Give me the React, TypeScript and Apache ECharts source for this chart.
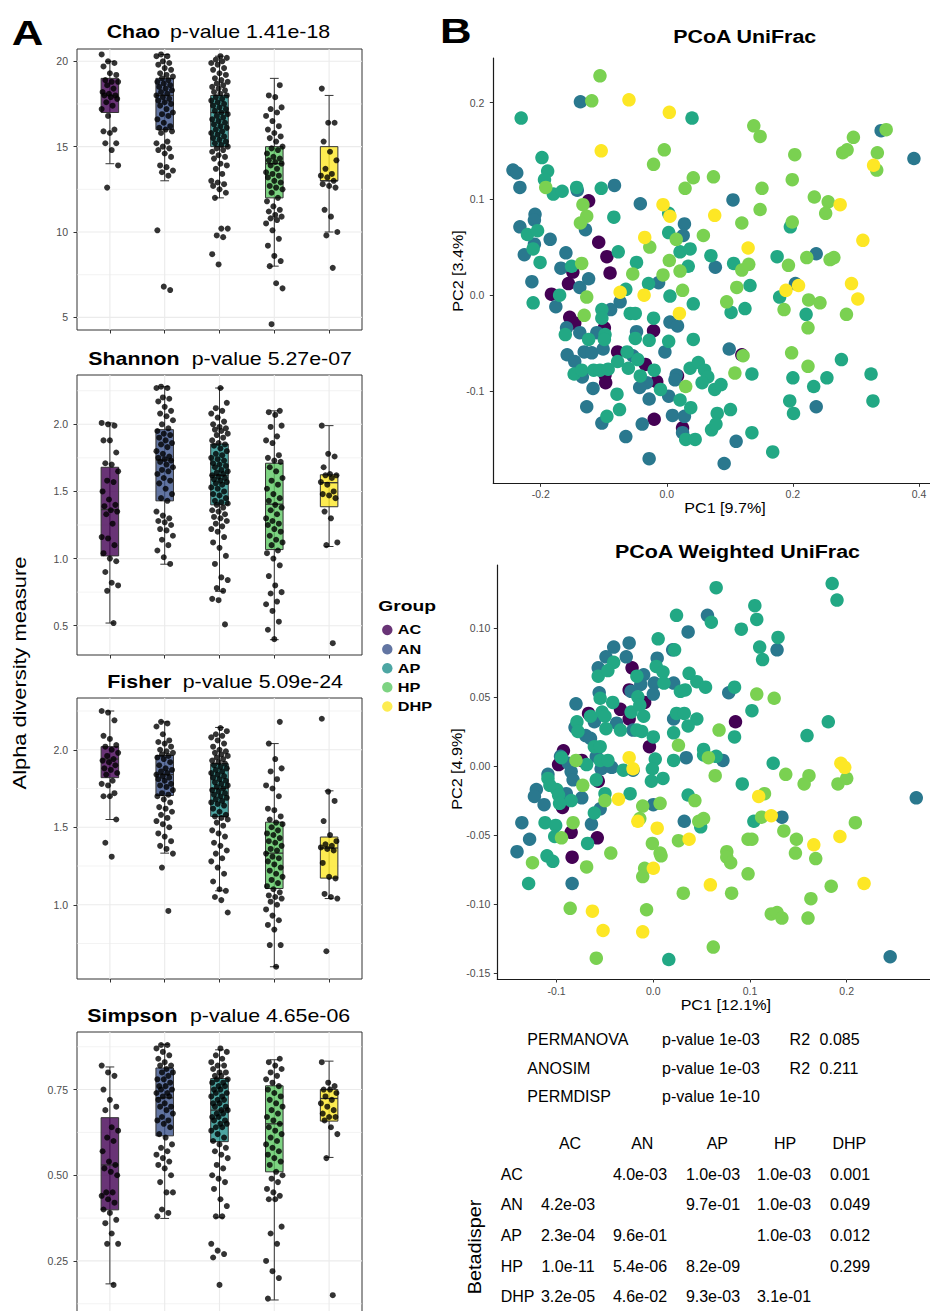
import React, { useEffect, useRef } from 'react';
import * as echarts from 'echarts';

const FONT = '"Liberation Sans", Arial, Helvetica, sans-serif';
const GROUPS = ['AC', 'AN', 'AP', 'HP', 'DHP'];
const BOX_COLORS = ['rgba(68,1,84,0.8)', 'rgba(59,82,139,0.8)', 'rgba(33,144,140,0.8)', 'rgba(93,200,99,0.8)', 'rgba(253,231,37,0.8)'];
const PCOA_COLORS = ['#440154', '#2A788E', '#22A884', '#7AD151', '#FDE725'];

// ---------- Alpha diversity values (per group) ----------
const CHAO_AC = [20.4, 20.0, 19.9, 19.7, 19.3, 19.2, 18.9, 18.8, 18.8, 18.6, 18.4, 18.2, 18.1, 18.0, 18.0, 17.9, 17.8, 17.6, 17.4, 17.2, 16.8, 16.0, 15.9, 15.8, 15.2, 15.2, 14.8, 13.9, 12.6];
const CHAO_AN = [20.4, 20.3, 20.3, 20.0, 19.9, 19.8, 19.6, 19.5, 19.3, 19.2, 19.1, 19.0, 18.9, 18.8, 18.7, 18.6, 18.5, 18.4, 18.3, 18.2, 18.1, 18.0, 17.9, 17.8, 17.7, 17.6, 17.5, 17.4, 17.2, 17.0, 16.9, 16.8, 16.6, 16.4, 16.2, 16.1, 16.0, 15.9, 15.8, 15.3, 15.2, 15.0, 14.9, 14.8, 14.6, 14.4, 13.9, 13.8, 13.6, 13.5, 13.3, 10.1, 6.8, 6.6];
const CHAO_AP = [20.3, 20.2, 20.1, 20.0, 19.9, 19.8, 19.6, 19.5, 19.3, 19.2, 19.0, 18.9, 18.8, 18.7, 18.6, 18.5, 18.4, 18.3, 18.2, 18.1, 18.0, 17.9, 17.8, 17.7, 17.6, 17.5, 17.4, 17.3, 17.2, 17.1, 17.0, 16.9, 16.8, 16.7, 16.6, 16.5, 16.4, 16.3, 16.2, 16.1, 16.0, 15.9, 15.8, 15.7, 15.6, 15.5, 15.4, 15.3, 15.2, 15.1, 15.0, 14.9, 14.8, 14.7, 14.5, 14.4, 14.3, 14.0, 13.9, 13.7, 13.4, 13.0, 12.9, 12.8, 12.7, 12.5, 12.3, 12.0, 10.2, 10.2, 9.8, 9.7, 8.7, 8.1];
const CHAO_HP = [18.6, 18.0, 17.9, 17.3, 17.2, 17.0, 16.8, 16.5, 16.2, 16.0, 15.8, 15.6, 15.5, 15.3, 15.0, 14.9, 14.8, 14.6, 14.4, 14.3, 14.2, 14.1, 14.0, 13.9, 13.7, 13.5, 13.4, 13.3, 13.2, 13.0, 12.9, 12.7, 12.6, 12.5, 12.3, 12.0, 11.8, 11.5, 11.3, 11.2, 11.0, 10.9, 10.8, 10.7, 10.5, 10.1, 9.6, 9.2, 8.6, 8.3, 8.0, 7.0, 6.7, 4.6];
const CHAO_DHP = [18.4, 16.4, 16.4, 15.3, 14.7, 14.2, 13.7, 13.4, 13.3, 13.2, 13.0, 12.8, 12.7, 12.6, 11.3, 10.9, 10.0, 9.8, 7.9];
const CHAO_BOX = [[14.0, 17.0, 18.0, 19.0, 20.0], [13.0, 16.0, 18.0, 19.0, 20.4], [12.0, 15.0, 17.0, 18.0, 20.3], [8.0, 12.0, 14.0, 15.0, 19.0], [10.0, 13.0, 13.0, 15.0, 18.0]];

const SHANNON_AC = [2.01, 2.0, 1.99, 1.88, 1.88, 1.79, 1.71, 1.70, 1.65, 1.58, 1.57, 1.50, 1.44, 1.40, 1.39, 1.36, 1.35, 1.33, 1.26, 1.16, 1.15, 1.10, 1.04, 1.00, 0.98, 0.90, 0.82, 0.80, 0.76, 0.52];
const SHANNON_AN = [2.28, 2.27, 2.27, 2.20, 2.19, 2.17, 2.13, 2.10, 2.08, 2.06, 2.03, 2.00, 1.97, 1.95, 1.93, 1.92, 1.90, 1.88, 1.86, 1.85, 1.83, 1.80, 1.78, 1.76, 1.75, 1.74, 1.73, 1.72, 1.70, 1.68, 1.66, 1.65, 1.63, 1.60, 1.58, 1.56, 1.52, 1.48, 1.45, 1.43, 1.35, 1.32, 1.30, 1.28, 1.27, 1.25, 1.22, 1.21, 1.17, 1.14, 1.10, 1.06, 1.01, 0.96];
const SHANNON_AP = [2.27, 2.16, 2.12, 2.10, 2.08, 2.05, 2.02, 2.00, 1.98, 1.97, 1.96, 1.95, 1.93, 1.92, 1.90, 1.88, 1.86, 1.85, 1.84, 1.82, 1.80, 1.78, 1.77, 1.75, 1.74, 1.73, 1.71, 1.70, 1.69, 1.68, 1.66, 1.65, 1.64, 1.63, 1.62, 1.61, 1.60, 1.59, 1.58, 1.57, 1.56, 1.55, 1.53, 1.52, 1.50, 1.48, 1.47, 1.45, 1.43, 1.42, 1.41, 1.40, 1.38, 1.36, 1.35, 1.33, 1.31, 1.30, 1.28, 1.26, 1.24, 1.22, 1.20, 1.16, 1.12, 1.08, 1.02, 0.96, 0.86, 0.84, 0.78, 0.76, 0.70, 0.69, 0.51];
const SHANNON_HP = [2.10, 2.09, 2.07, 1.99, 1.98, 1.91, 1.88, 1.86, 1.77, 1.75, 1.73, 1.72, 1.68, 1.65, 1.60, 1.58, 1.55, 1.52, 1.48, 1.45, 1.43, 1.40, 1.38, 1.36, 1.33, 1.30, 1.28, 1.26, 1.25, 1.22, 1.20, 1.17, 1.14, 1.12, 1.10, 1.06, 1.04, 1.00, 0.95, 0.87, 0.80, 0.75, 0.74, 0.68, 0.66, 0.61, 0.53, 0.47, 0.40];
const SHANNON_DHP = [1.99, 1.78, 1.76, 1.68, 1.63, 1.62, 1.62, 1.60, 1.57, 1.55, 1.50, 1.48, 1.47, 1.45, 1.35, 1.30, 1.12, 1.10, 0.37];
const SHANNON_BOX = [[0.52, 1.02, 1.365, 1.68, 2.01], [0.958, 1.43, 1.734, 1.96, 2.28], [0.756, 1.40, 1.62, 1.853, 2.27], [0.396, 1.067, 1.405, 1.71, 2.10], [1.09, 1.386, 1.565, 1.624, 1.99]];

const FISHER_AC = [2.25, 2.24, 2.19, 2.09, 2.07, 2.03, 2.02, 2.00, 1.98, 1.96, 1.94, 1.93, 1.92, 1.90, 1.88, 1.87, 1.85, 1.84, 1.80, 1.78, 1.77, 1.72, 1.70, 1.70, 1.55, 1.40, 1.31];
const FISHER_AN = [2.18, 2.17, 2.15, 2.10, 2.06, 2.05, 2.04, 2.02, 2.00, 1.99, 1.98, 1.97, 1.96, 1.95, 1.94, 1.92, 1.90, 1.88, 1.87, 1.86, 1.85, 1.84, 1.83, 1.82, 1.81, 1.80, 1.78, 1.77, 1.76, 1.74, 1.72, 1.71, 1.70, 1.68, 1.66, 1.63, 1.62, 1.60, 1.58, 1.56, 1.54, 1.52, 1.50, 1.46, 1.44, 1.41, 1.38, 1.36, 1.33, 1.24, 0.96];
const FISHER_AP = [2.14, 2.12, 2.10, 2.09, 2.08, 2.06, 2.04, 2.02, 2.00, 1.99, 1.98, 1.97, 1.96, 1.95, 1.94, 1.93, 1.92, 1.91, 1.90, 1.89, 1.88, 1.87, 1.86, 1.85, 1.84, 1.83, 1.82, 1.81, 1.80, 1.79, 1.78, 1.77, 1.76, 1.75, 1.74, 1.73, 1.72, 1.71, 1.70, 1.69, 1.68, 1.67, 1.66, 1.65, 1.64, 1.62, 1.60, 1.58, 1.57, 1.56, 1.55, 1.53, 1.51, 1.48, 1.46, 1.44, 1.40, 1.38, 1.35, 1.33, 1.30, 1.28, 1.24, 1.20, 1.15, 1.10, 1.09, 1.05, 1.03, 0.95];
const FISHER_HP = [2.18, 2.04, 1.94, 1.88, 1.86, 1.81, 1.77, 1.75, 1.70, 1.62, 1.61, 1.57, 1.55, 1.53, 1.52, 1.50, 1.48, 1.46, 1.45, 1.43, 1.41, 1.40, 1.38, 1.36, 1.35, 1.33, 1.31, 1.30, 1.28, 1.26, 1.24, 1.22, 1.20, 1.18, 1.16, 1.14, 1.12, 1.10, 1.08, 1.06, 1.05, 1.04, 1.02, 1.00, 0.97, 0.93, 0.90, 0.87, 0.84, 0.74, 0.74, 0.60];
const FISHER_DHP = [2.20, 1.73, 1.67, 1.54, 1.45, 1.41, 1.39, 1.38, 1.37, 1.36, 1.35, 1.27, 1.18, 1.17, 1.07, 1.05, 1.04, 0.70];
const FISHER_BOX = [[1.55, 1.82, 1.94, 2.02, 2.25], [1.333, 1.705, 1.84, 1.963, 2.18], [1.09, 1.57, 1.75, 1.91, 2.144], [0.60, 1.105, 1.333, 1.533, 2.04], [1.04, 1.172, 1.366, 1.437, 1.735]];

const SIMPSON_AC = [0.82, 0.80, 0.79, 0.75, 0.72, 0.70, 0.69, 0.64, 0.63, 0.61, 0.60, 0.57, 0.54, 0.53, 0.52, 0.51, 0.50, 0.45, 0.45, 0.44, 0.43, 0.42, 0.40, 0.39, 0.37, 0.36, 0.33, 0.30, 0.30, 0.18];
const SIMPSON_AN = [0.88, 0.88, 0.87, 0.86, 0.85, 0.84, 0.83, 0.82, 0.82, 0.81, 0.80, 0.80, 0.79, 0.78, 0.78, 0.77, 0.76, 0.76, 0.75, 0.75, 0.74, 0.74, 0.73, 0.73, 0.72, 0.71, 0.70, 0.70, 0.69, 0.68, 0.67, 0.66, 0.66, 0.65, 0.64, 0.62, 0.61, 0.59, 0.58, 0.57, 0.56, 0.55, 0.54, 0.53, 0.52, 0.50, 0.48, 0.45, 0.45, 0.40, 0.39, 0.38];
const SIMPSON_AP = [0.87, 0.86, 0.85, 0.84, 0.83, 0.82, 0.82, 0.81, 0.80, 0.80, 0.79, 0.79, 0.78, 0.78, 0.77, 0.77, 0.76, 0.76, 0.75, 0.75, 0.74, 0.74, 0.73, 0.73, 0.72, 0.72, 0.71, 0.71, 0.70, 0.70, 0.69, 0.69, 0.68, 0.68, 0.67, 0.67, 0.66, 0.66, 0.65, 0.65, 0.64, 0.64, 0.63, 0.62, 0.61, 0.60, 0.59, 0.58, 0.57, 0.56, 0.55, 0.53, 0.52, 0.50, 0.49, 0.48, 0.46, 0.43, 0.41, 0.38, 0.38, 0.30, 0.28, 0.27, 0.26, 0.18];
const SIMPSON_HP = [0.84, 0.83, 0.82, 0.81, 0.80, 0.79, 0.78, 0.77, 0.76, 0.75, 0.74, 0.73, 0.72, 0.71, 0.70, 0.69, 0.68, 0.67, 0.66, 0.65, 0.64, 0.63, 0.62, 0.61, 0.60, 0.59, 0.58, 0.57, 0.56, 0.55, 0.54, 0.53, 0.51, 0.50, 0.49, 0.48, 0.46, 0.45, 0.44, 0.43, 0.43, 0.35, 0.33, 0.30, 0.25, 0.22, 0.20, 0.14];
const SIMPSON_DHP = [0.83, 0.77, 0.76, 0.75, 0.75, 0.74, 0.73, 0.72, 0.71, 0.70, 0.69, 0.68, 0.67, 0.67, 0.66, 0.64, 0.62, 0.55, 0.15];
const SIMPSON_BOX = [[0.183, 0.399, 0.53, 0.668, 0.816], [0.374, 0.615, 0.726, 0.813, 0.882], [0.376, 0.598, 0.69, 0.782, 0.866], [0.136, 0.51, 0.65, 0.761, 0.837], [0.552, 0.658, 0.724, 0.75, 0.833]];

// ---------- PCoA UniFrac coordinates [PC1, PC2] ----------
const UF_AC = [[-0.124, 0.098], [-0.108, 0.055], [-0.095, 0.040], [-0.090, 0.023], [-0.149, 0.024], [-0.156, 0.012], [-0.183, 0.001], [-0.154, -0.023], [-0.146, -0.029], [-0.099, -0.034], [-0.021, -0.037], [-0.078, -0.059], [-0.098, -0.083], [-0.097, -0.091], [-0.034, -0.072], [-0.016, -0.090], [0.017, -0.084], [0.119, -0.062], [-0.020, -0.129], [0.025, -0.138]];
const UF_AN = [[-0.137, 0.201], [0.340, 0.171], [0.392, 0.142], [-0.244, 0.130], [-0.238, 0.127], [-0.233, 0.112], [-0.142, 0.109], [-0.083, 0.114], [-0.129, 0.068], [-0.042, 0.095], [0.105, 0.099], [-0.209, 0.084], [-0.210, 0.078], [-0.233, 0.071], [-0.210, 0.053], [-0.226, 0.042], [-0.185, 0.058], [-0.160, 0.044], [-0.168, 0.028], [0.028, 0.074], [0.026, 0.062], [-0.124, 0.017], [-0.138, 0.008], [-0.214, 0.014], [-0.176, -0.012], [-0.013, 0.013], [-0.074, -0.007], [-0.089, -0.015], [0.077, 0.029], [0.237, 0.043], [0.204, 0.012], [0.005, -0.028], [0.017, -0.032], [-0.159, -0.034], [-0.138, -0.039], [-0.111, -0.039], [-0.048, -0.038], [-0.158, -0.062], [-0.146, -0.069], [-0.131, -0.059], [-0.119, -0.060], [-0.101, -0.056], [-0.134, -0.085], [-0.054, -0.063], [-0.032, -0.091], [-0.003, -0.059], [0.099, -0.056], [0.015, -0.083], [0.013, -0.088], [-0.043, -0.096], [-0.117, -0.097], [-0.127, -0.116], [-0.103, -0.133], [-0.028, -0.108], [0.003, -0.105], [0.009, -0.125], [0.028, -0.126], [-0.065, -0.147], [-0.039, -0.134], [0.025, -0.143], [0.110, -0.152], [-0.028, -0.170], [0.091, -0.175], [0.237, -0.116]];
const UF_AP = [[-0.231, 0.184], [0.040, 0.184], [-0.198, 0.143], [-0.189, 0.129], [-0.194, 0.120], [-0.180, 0.105], [-0.166, 0.108], [-0.143, 0.112], [-0.104, 0.111], [0.003, 0.085], [0.196, 0.071], [-0.084, 0.081], [-0.221, 0.063], [-0.205, 0.067], [-0.212, 0.048], [-0.201, 0.034], [-0.151, 0.030], [0.003, 0.065], [-0.077, 0.045], [0.021, 0.045], [0.037, 0.048], [0.034, 0.030], [-0.048, 0.034], [-0.212, -0.008], [-0.170, 0.000], [-0.065, 0.006], [-0.029, 0.012], [-0.058, -0.019], [-0.050, -0.019], [0.005, -0.001], [0.042, -0.009], [0.070, 0.041], [0.106, 0.033], [0.132, 0.010], [0.175, 0.040], [0.179, -0.002], [0.221, -0.020], [0.102, -0.018], [0.124, -0.014], [-0.161, -0.041], [-0.103, -0.015], [-0.103, -0.024], [-0.124, -0.046], [-0.098, -0.041], [-0.099, -0.046], [-0.050, -0.045], [-0.028, -0.047], [-0.021, -0.024], [-0.063, -0.059], [-0.078, -0.069], [-0.147, -0.082], [-0.135, -0.078], [-0.116, -0.078], [-0.106, -0.078], [-0.093, -0.077], [-0.061, -0.076], [-0.046, -0.067], [-0.042, -0.084], [-0.020, -0.078], [0.042, -0.046], [0.003, -0.048], [0.037, -0.076], [0.050, -0.070], [0.060, -0.078], [0.065, -0.085], [0.056, -0.091], [0.076, -0.098], [0.086, -0.093], [0.135, -0.082], [-0.010, -0.098], [-0.079, -0.103], [-0.075, -0.119], [-0.095, -0.126], [0.021, -0.109], [0.038, -0.117], [0.030, -0.150], [0.045, -0.150], [0.080, -0.123], [0.101, -0.119], [0.071, -0.140], [0.078, -0.134], [0.135, -0.143], [0.168, -0.163], [0.200, -0.086], [0.233, -0.095], [0.254, -0.086], [0.277, -0.067], [0.195, -0.110], [0.201, -0.123], [0.324, -0.082], [0.327, -0.110]];
const UF_HP = [[-0.106, 0.228], [-0.119, 0.202], [0.138, 0.176], [0.148, 0.165], [0.348, 0.172], [0.296, 0.164], [-0.004, 0.151], [0.203, 0.146], [0.279, 0.148], [0.286, 0.151], [0.334, 0.148], [0.333, 0.130], [-0.021, 0.136], [-0.192, 0.112], [0.042, 0.122], [0.074, 0.123], [0.029, 0.111], [0.151, 0.111], [0.199, 0.120], [-0.133, 0.094], [-0.127, 0.082], [-0.137, 0.075], [0.234, 0.102], [0.256, 0.097], [0.252, 0.085], [0.148, 0.089], [0.119, 0.075], [0.199, 0.076], [0.015, 0.058], [0.058, 0.062], [-0.027, 0.050], [-0.135, 0.033], [0.004, 0.036], [0.021, 0.025], [-0.006, 0.021], [-0.054, 0.022], [0.025, 0.005], [0.119, 0.026], [0.130, 0.032], [0.111, 0.008], [0.193, 0.031], [0.222, 0.039], [0.259, 0.037], [0.265, 0.039], [-0.127, -0.002], [0.186, -0.015], [0.225, -0.005], [0.243, -0.008], [0.224, -0.034], [0.285, -0.020], [0.095, -0.007], [-0.131, -0.021], [0.121, -0.063], [0.108, -0.081], [0.030, -0.095], [0.198, -0.060], [0.224, -0.074]];
const UF_DHP = [[-0.060, 0.203], [0.004, 0.190], [-0.104, 0.150], [0.328, 0.135], [-0.006, 0.094], [0.005, 0.082], [0.076, 0.083], [0.275, 0.094], [-0.035, 0.060], [0.129, 0.049], [0.311, 0.057], [-0.074, 0.003], [-0.036, 0.000], [0.189, 0.005], [0.209, 0.010], [0.293, 0.012], [0.303, -0.004], [0.020, -0.019]];

// ---------- PCoA Weighted UniFrac coordinates [PC1, PC2] ----------
const WU_AC = [[-0.022, 0.071], [-0.034, 0.041], [-0.025, 0.055], [-0.009, 0.046], [-0.067, 0.038], [-0.025, 0.034], [-0.004, 0.014], [0.085, 0.032], [-0.093, 0.011], [-0.098, 0.001], [-0.074, 0.004], [-0.057, -0.011], [-0.094, -0.030], [-0.085, -0.048], [-0.058, -0.052], [-0.084, -0.066]];
const WU_AN = [[0.056, 0.109], [0.036, 0.097], [0.128, 0.084], [-0.041, 0.086], [-0.025, 0.089], [-0.049, 0.079], [-0.028, 0.079], [-0.057, 0.071], [-0.010, 0.066], [-0.013, 0.059], [0.004, 0.078], [0.020, 0.084], [0.001, 0.060], [0.000, 0.052], [0.021, 0.060], [0.078, 0.053], [-0.080, 0.045], [-0.056, 0.053], [-0.023, 0.054], [-0.061, 0.032], [-0.038, 0.031], [-0.021, 0.026], [-0.081, 0.028], [-0.070, 0.022], [-0.065, 0.020], [-0.059, 0.007], [0.021, 0.034], [0.034, 0.006], [0.072, 0.004], [-0.096, 0.007], [-0.088, 0.002], [-0.085, -0.004], [-0.054, -0.002], [-0.043, -0.001], [-0.021, -0.003], [-0.109, -0.006], [-0.121, -0.017], [-0.123, -0.022], [-0.113, -0.028], [-0.090, -0.020], [-0.083, -0.010], [-0.074, -0.023], [-0.055, -0.031], [-0.064, -0.042], [0.000, -0.028], [0.032, -0.040], [0.133, -0.037], [-0.136, -0.041], [-0.128, -0.053], [-0.141, -0.062], [-0.084, -0.085], [0.245, -0.138], [0.272, -0.023]];
const WU_AP = [[0.065, 0.129], [0.185, 0.132], [0.190, 0.120], [0.024, 0.109], [0.060, 0.104], [0.091, 0.099], [0.105, 0.116], [0.107, 0.106], [0.129, 0.093], [0.110, 0.086], [0.113, 0.077], [-0.041, 0.075], [-0.057, 0.065], [-0.047, 0.069], [-0.017, 0.065], [0.005, 0.092], [0.022, 0.084], [0.003, 0.072], [0.010, 0.068], [0.011, 0.060], [0.028, 0.054], [0.033, 0.055], [0.037, 0.067], [0.045, 0.061], [0.054, 0.057], [0.084, 0.057], [0.102, 0.040], [-0.055, 0.049], [-0.042, 0.046], [-0.016, 0.050], [-0.065, 0.036], [-0.053, 0.039], [-0.050, 0.036], [-0.049, 0.027], [-0.034, 0.026], [-0.023, 0.039], [-0.014, 0.044], [-0.010, 0.036], [-0.017, 0.026], [-0.012, 0.025], [-0.079, 0.032], [-0.078, 0.025], [-0.061, 0.014], [-0.055, 0.014], [0.000, 0.021], [0.021, 0.024], [0.024, 0.038], [0.032, 0.038], [0.045, 0.034], [0.036, 0.029], [0.052, 0.012], [0.052, 0.008], [0.065, 0.007], [0.084, 0.021], [0.124, 0.002], [0.181, 0.032], [0.159, 0.022], [0.092, -0.013], [-0.095, 0.006], [-0.069, 0.001], [-0.055, 0.004], [-0.047, 0.004], [-0.059, -0.010], [-0.031, -0.003], [0.002, 0.005], [-0.001, -0.002], [-0.002, -0.011], [0.010, -0.009], [0.021, 0.004], [-0.109, -0.009], [-0.100, -0.017], [-0.098, -0.021], [-0.107, -0.014], [-0.085, -0.025], [-0.097, -0.027], [-0.050, -0.020], [-0.061, -0.034], [-0.024, -0.020], [0.036, -0.021], [0.049, -0.044], [0.104, -0.040], [-0.112, -0.041], [-0.101, -0.043], [-0.102, -0.051], [-0.068, -0.056], [-0.110, -0.065], [-0.104, -0.069], [-0.129, -0.085], [0.016, -0.140]];
const WU_HP = [[0.107, 0.052], [0.125, 0.049], [0.026, 0.015], [0.057, 0.006], [0.068, 0.026], [0.064, -0.007], [-0.080, 0.004], [-0.073, -0.014], [-0.050, -0.025], [-0.011, -0.029], [0.007, -0.027], [-0.014, -0.038], [0.043, -0.025], [0.047, -0.040], [0.052, -0.038], [0.115, -0.020], [0.112, -0.037], [-0.095, -0.052], [-0.083, -0.041], [0.026, -0.054], [0.135, -0.047], [0.098, -0.053], [0.102, -0.053], [0.148, -0.053], [0.147, -0.063], [0.168, -0.067], [0.209, -0.041], [-0.001, -0.056], [0.007, -0.063], [0.008, -0.065], [-0.125, -0.070], [-0.069, -0.073], [-0.044, -0.063], [0.076, -0.062], [0.076, -0.066], [0.080, -0.070], [-0.009, -0.074], [-0.011, -0.080], [0.098, -0.078], [0.081, -0.092], [0.031, -0.092], [0.184, -0.087], [-0.086, -0.103], [-0.007, -0.104], [0.122, -0.107], [0.128, -0.106], [0.133, -0.110], [0.160, -0.110], [0.163, -0.096], [0.062, -0.131], [-0.059, -0.139], [0.137, -0.006], [0.161, -0.007], [0.156, -0.013], [0.191, -0.013], [0.200, -0.009]];
const WU_DHP = [[-0.025, 0.006], [-0.021, -0.002], [-0.036, -0.024], [-0.016, -0.040], [0.109, -0.022], [0.122, -0.036], [0.004, -0.045], [0.037, -0.053], [0.166, -0.057], [0.193, -0.051], [0.000, -0.074], [0.059, -0.086], [0.218, -0.085], [-0.063, -0.105], [-0.052, -0.119], [-0.011, -0.120], [0.194, 0.002], [0.198, -0.001]];

// ---------- Tests ----------
const TEST_ROWS = [
  ['PERMANOVA', 'p-value 1e-03', '0.085'],
  ['ANOSIM', 'p-value 1e-03', '0.211'],
  ['PERMDISP', 'p-value 1e-10', ''],
];
const BETADISPER = [
  ['', '4.0e-03', '1.0e-03', '1.0e-03', '0.001'],
  ['4.2e-03', '', '9.7e-01', '1.0e-03', '0.049'],
  ['2.3e-04', '9.6e-01', '', '1.0e-03', '0.012'],
  ['1.0e-11', '5.4e-06', '8.2e-09', '', '0.299'],
  ['3.2e-05', '4.6e-02', '9.3e-03', '3.1e-01', ''],
];

const PANELS = [
  { name: 'Chao', p: 'p-value 1.41e-18', groups: [CHAO_AC, CHAO_AN, CHAO_AP, CHAO_HP, CHAO_DHP], box: CHAO_BOX,
    major: [5, 10, 15, 20], minor: [7.5, 12.5, 17.5], min: 4.26, max: 20.72, fmt: (v: number) => String(v),
    top: 49, height: 281, tx1: 106.7, tx2: 170, ty: 32 },
  { name: 'Shannon', p: 'p-value 5.27e-07', groups: [SHANNON_AC, SHANNON_AN, SHANNON_AP, SHANNON_HP, SHANNON_DHP], box: SHANNON_BOX,
    major: [0.5, 1, 1.5, 2], minor: [0.75, 1.25, 1.75, 2.25], min: 0.282, max: 2.367, fmt: (v: number) => v.toFixed(1),
    top: 375, height: 280, tx1: 88.3, tx2: 191.7, ty: 358.5 },
  { name: 'Fisher', p: 'p-value 5.09e-24', groups: [FISHER_AC, FISHER_AN, FISHER_AP, FISHER_HP, FISHER_DHP], box: FISHER_BOX,
    major: [1, 1.5, 2], minor: [0.75, 1.25, 1.75, 2.25], min: 0.521, max: 2.334, fmt: (v: number) => v.toFixed(1),
    top: 698, height: 281, tx1: 107.3, tx2: 182.7, ty: 681.7 },
  { name: 'Simpson', p: 'p-value 4.65e-06', groups: [SIMPSON_AC, SIMPSON_AN, SIMPSON_AP, SIMPSON_HP, SIMPSON_DHP], box: SIMPSON_BOX,
    major: [0.25, 0.5, 0.75], minor: [0.125, 0.375, 0.625, 0.875], min: 0.063, max: 0.918, fmt: (v: number) => v.toFixed(2),
    top: 1032, height: 293, tx1: 87.3, tx2: 190, ty: 1016 },
];

const jit = (i: number, g: number) => ((((i * 7 + g * 5) % 19) / 18) - 0.5) * 0.3;

const gridRender = (params: any, api: any) => {
  const cs = params.coordSys;
  const v = api.value(0);
  const kind = api.value(1);
  if (kind === 2) {
    const x = api.coord([v, 1])[0];
    return { type: 'line', shape: { x1: x, y1: cs.y, x2: x, y2: cs.y + cs.height }, style: { stroke: '#ebebeb', lineWidth: 1.1 } };
  }
  const y = api.coord([1, v])[1];
  return { type: 'line', shape: { x1: cs.x, y1: y, x2: cs.x + cs.width, y2: y }, style: { stroke: '#ebebeb', lineWidth: kind === 0 ? 1.1 : 0.6 } };
};

const boxRender = (params: any, api: any) => {
  const x = api.value(0);
  const p = [1, 2, 3, 4, 5].map((i) => api.coord([x, api.value(i)]));
  const cx = p[0][0];
  const w = api.size([0.32, 0])[0];
  const cw = api.size([0.16, 0])[0];
  const stroke = '#333333';
  const ls = { stroke, lineWidth: 1 };
  return {
    type: 'group',
    children: [
      { type: 'line', shape: { x1: cx, y1: p[4][1], x2: cx, y2: p[0][1] }, style: ls },
      { type: 'line', shape: { x1: cx - cw / 2, y1: p[4][1], x2: cx + cw / 2, y2: p[4][1] }, style: ls },
      { type: 'line', shape: { x1: cx - cw / 2, y1: p[0][1], x2: cx + cw / 2, y2: p[0][1] }, style: ls },
      { type: 'rect', shape: { x: cx - w / 2, y: p[3][1], width: w, height: p[1][1] - p[3][1] }, style: { fill: BOX_COLORS[params.dataIndex], stroke, lineWidth: 1 } },
      { type: 'line', shape: { x1: cx - w / 2, y1: p[2][1], x2: cx + w / 2, y2: p[2][1] }, style: { stroke, lineWidth: 1.3 } },
    ],
  };
};

function T(text: string, x: number, y: number, fs: number, o: any = {}) {
  const align = o.align || 'left';
  return {
    type: 'text', x, y, rotation: o.rot || 0, scaleX: o.sx || 1, silent: true, z: 50,
    style: {
      text, fontSize: fs, fontWeight: o.bold ? 'bold' : 'normal', fontFamily: FONT, fill: o.color || '#000',
      align, verticalAlign: 'middle', textAlign: align, textVerticalAlign: 'middle',
    },
  };
}

function buildOption() {
  const grid: any[] = [];
  const xAxis: any[] = [];
  const yAxis: any[] = [];
  const series: any[] = [];
  const tickStyle = { length: 3.5, lineStyle: { color: '#333333', width: 1 } };

  PANELS.forEach((p, i) => {
    grid.push({ left: 77, width: 285, top: p.top, height: p.height, show: true, borderColor: '#333333', borderWidth: 1, backgroundColor: 'transparent', outerBoundsMode: 'none', containLabel: false });
    xAxis.push({ gridIndex: i, type: 'value', min: 0.4, max: 5.6, axisLine: { show: false, onZero: false }, splitLine: { show: false },
      axisTick: { show: true, customValues: [1, 2, 3, 4, 5], ...tickStyle }, axisLabel: { show: false } });
    yAxis.push({ gridIndex: i, type: 'value', min: p.min, max: p.max, axisLine: { show: false, onZero: false }, splitLine: { show: false },
      axisTick: { show: true, customValues: p.major, ...tickStyle },
      axisLabel: { show: true, customValues: p.major, formatter: p.fmt, color: '#4d4d4d', fontSize: 10.5, margin: 9, fontFamily: FONT } });
    const gl: any[] = [];
    p.major.forEach((v) => gl.push([v, 0]));
    p.minor.forEach((v) => gl.push([v, 1]));
    [1, 2, 3, 4, 5].forEach((v) => gl.push([v, 2]));
    series.push({ type: 'custom', xAxisIndex: i, yAxisIndex: i, silent: true, z: 1, renderItem: gridRender, data: gl });
    series.push({ type: 'custom', xAxisIndex: i, yAxisIndex: i, silent: true, z: 2, renderItem: boxRender,
      data: p.box.map((s, g) => [g + 1, ...s]) });
    const pts: number[][] = [];
    p.groups.forEach((vals, g) => vals.forEach((v, k) => pts.push([g + 1 + jit(k, g), v])));
    series.push({ type: 'scatter', xAxisIndex: i, yAxisIndex: i, silent: true, z: 3, symbolSize: 6, itemStyle: { color: '#000' }, data: pts });
  });

  const pcoa = [
    { left: 493.3, top: 58, width: 436.7, height: 425.3, xmin: -0.2752, xmax: 0.4175, ymin: -0.1956, ymax: 0.2465,
      xt: [-0.2, 0, 0.2, 0.4], yt: [-0.1, 0, 0.1, 0.2], xf: (v: number) => v.toFixed(1), yf: (v: number) => v.toFixed(1),
      xm: 5, ym: 9, data: [UF_AC, UF_AN, UF_AP, UF_HP, UF_DHP] },
    { left: 497.3, top: 565, width: 432.7, height: 414, xmin: -0.1614, xmax: 0.2862, ymin: -0.1541, ymax: 0.1454,
      xt: [-0.1, 0, 0.1, 0.2], yt: [-0.15, -0.1, -0.05, 0, 0.05, 0.1], xf: (v: number) => v.toFixed(1), yf: (v: number) => v.toFixed(2),
      xm: 6, ym: 7, data: [WU_AC, WU_AN, WU_AP, WU_HP, WU_DHP] },
  ];
  pcoa.forEach((c, j) => {
    const gi = 4 + j;
    grid.push({ left: c.left, top: c.top, width: c.width, height: c.height, show: false, outerBoundsMode: 'none', containLabel: false });
    const axLine = { show: true, onZero: false, lineStyle: { color: '#1a1a1a', width: 1.2 } };
    xAxis.push({ gridIndex: gi, type: 'value', min: c.xmin, max: c.xmax, axisLine: axLine, splitLine: { show: false },
      axisTick: { show: true, customValues: c.xt, ...tickStyle },
      axisLabel: { show: true, customValues: c.xt, formatter: c.xf, color: '#4d4d4d', fontSize: 10.5, margin: c.xm, fontFamily: FONT } });
    yAxis.push({ gridIndex: gi, type: 'value', min: c.ymin, max: c.ymax, axisLine: axLine, splitLine: { show: false },
      axisTick: { show: true, customValues: c.yt, ...tickStyle },
      axisLabel: { show: true, customValues: c.yt, formatter: c.yf, color: '#4d4d4d', fontSize: 10.5, margin: c.ym, fontFamily: FONT } });
    c.data.forEach((d, g) => {
      series.push({ type: 'scatter', name: GROUPS[g], xAxisIndex: gi, yAxisIndex: gi, silent: true, z: 3 + g * 0.01, symbolSize: 13.5,
        itemStyle: { color: PCOA_COLORS[g], opacity: 1 }, data: d });
    });
  });

  const graphic: any[] = [];
  graphic.push(T('A', 11.7, 32.5, 35, { bold: true, sx: 1.25 }));
  graphic.push(T('B', 440, 31, 35, { bold: true, sx: 1.25 }));
  PANELS.forEach((p) => {
    graphic.push(T(p.name, p.tx1, p.ty, 17.5, { bold: true, sx: 1.22 }));
    graphic.push(T(p.p, p.tx2, p.ty, 17.5, { sx: 1.22 }));
  });
  graphic.push(T('Alpha diversity measure', 20, 673, 18.5, { rot: Math.PI / 2, sx: 1.18, align: 'center' }));
  // legend
  graphic.push(T('Group', 378.3, 606, 15.4, { bold: true, sx: 1.25 }));
  const legY = [630, 649.3, 668.3, 687.3, 706.5];
  GROUPS.forEach((g, k) => {
    graphic.push({ type: 'circle', silent: true, z: 50, shape: { cx: 387.3, cy: legY[k], r: 5.2 }, style: { fill: BOX_COLORS[k] } });
    graphic.push(T(g, 397.7, legY[k], 13, { bold: true, sx: 1.25 }));
  });
  // PCoA titles
  graphic.push(T('PCoA UniFrac', 744.7, 37, 18, { bold: true, sx: 1.19, align: 'center' }));
  graphic.push(T('PCoA Weighted UniFrac', 737.5, 552, 18, { bold: true, sx: 1.19, align: 'center' }));
  graphic.push(T('PC1 [9.7%]', 725, 508, 14, { sx: 1.15, align: 'center' }));
  graphic.push(T('PC2 [3.4%]', 458.3, 271, 14, { sx: 1.15, align: 'center', rot: Math.PI / 2 }));
  graphic.push(T('PC1 [12.1%]', 725.8, 1004.5, 14, { sx: 1.15, align: 'center' }));
  graphic.push(T('PC2 [4.9%]', 456.7, 769, 14, { sx: 1.15, align: 'center', rot: Math.PI / 2 }));
  // tests
  const testY = [1039.3, 1068.3, 1096];
  TEST_ROWS.forEach((r, k) => {
    graphic.push(T(r[0], 527.3, testY[k], 16));
    graphic.push(T(r[1], 662, testY[k], 16));
    if (r[2]) {
      graphic.push(T('R2', 789.6, testY[k], 16));
      graphic.push(T(r[2], 819.6, testY[k], 16));
    }
  });
  const colX = [568, 640, 713, 784, 850];
  const headX = [570, 642.3, 717.3, 785, 849.3];
  const rowY = [1174, 1204.3, 1235.7, 1266, 1296.7];
  GROUPS.forEach((g, k) => {
    graphic.push(T(g, headX[k], 1143.3, 16, { align: 'center' }));
    graphic.push(T(g, 500.7, rowY[k], 16));
  });
  BETADISPER.forEach((row, r) => row.forEach((cell, c) => {
    if (cell) graphic.push(T(cell, colX[c], rowY[r], 16, { align: 'center' }));
  }));
  graphic.push(T('Betadisper', 475, 1247, 18, { rot: Math.PI / 2, sx: 1.1, align: 'center' }));

  return { animation: false, backgroundColor: '#ffffff', grid, xAxis, yAxis, series, graphic };
}

export default function App() {
  const ref = useRef<HTMLDivElement>(null);
  useEffect(() => {
    const chart = echarts.init(ref.current as HTMLDivElement, null, { renderer: 'svg' });
    chart.setOption(buildOption() as any);
    return () => chart.dispose();
  }, []);
  return <div ref={ref} style={{ position: 'absolute', left: 0, top: 0, width: 930, height: 1311 }} />;
}
